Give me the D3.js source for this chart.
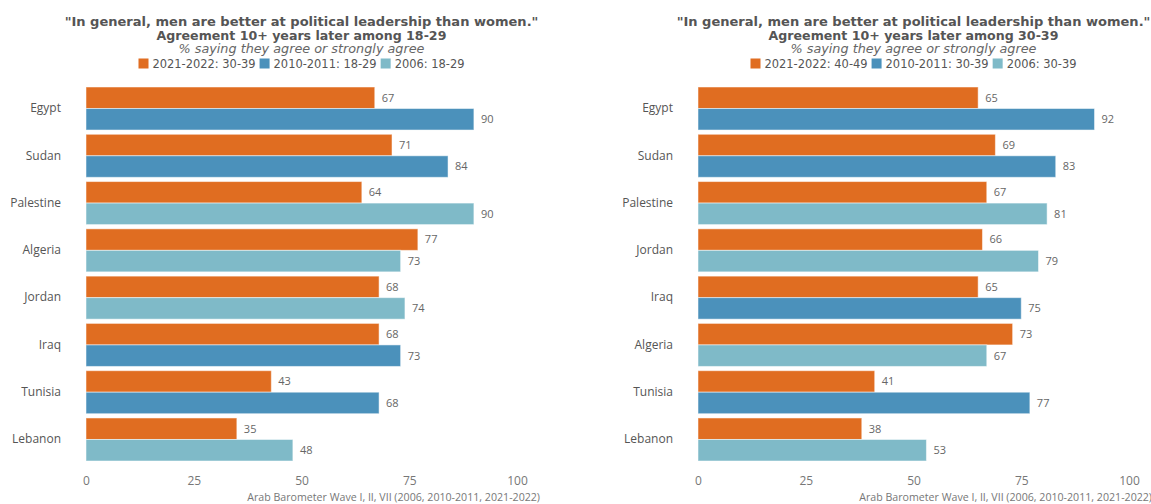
<!DOCTYPE html>
<html>
<head>
<meta charset="utf-8">
<script src="https://cdn.jsdelivr.net/npm/d3@7"></script>
<style>
  html, body { margin: 0; padding: 0; background: #ffffff; }
  svg { display: block; font-family: "Open Sans", "DejaVu Sans", sans-serif; }
</style>
</head>
<body>
<svg id="chart" width="1151" height="504"></svg>
<script>
// ---------------- DATA ----------------
const titleLine1 = '"In general, men are better at political leadership than women."';
const subtitle = "% saying they agree or strongly agree";
const sourceText = "Arab Barometer Wave I, II, VII (2006, 2010-2011, 2021-2022)";
const xTicks = [0, 25, 50, 75, 100];

// Left panel: 18-29
const leftTitle2 = "Agreement 10+ years later among 18-29";
const leftLegend = ["2021-2022: 30-39", "2010-2011: 18-29", "2006: 18-29"];
const leftCountries = ["Egypt", "Sudan", "Palestine", "Algeria", "Jordan", "Iraq", "Tunisia", "Lebanon"];
const leftRecent = [67, 71, 64, 77, 68, 68, 43, 35];
const leftEarlier = [90, 84, 90, 73, 74, 73, 68, 48];
const leftEarlierWave = ["2010-2011", "2010-2011", "2006", "2006", "2006", "2010-2011", "2010-2011", "2006"];

// Right panel: 30-39
const rightTitle2 = "Agreement 10+ years later among 30-39";
const rightLegend = ["2021-2022: 40-49", "2010-2011: 30-39", "2006: 30-39"];
const rightCountries = ["Egypt", "Sudan", "Palestine", "Jordan", "Iraq", "Algeria", "Tunisia", "Lebanon"];
const rightRecent = [65, 69, 67, 66, 65, 73, 41, 38];
const rightEarlier = [92, 83, 81, 79, 75, 67, 77, 53];
const rightEarlierWave = ["2010-2011", "2010-2011", "2006", "2006", "2010-2011", "2006", "2010-2011", "2006"];

// ---------------- STYLE ----------------
const colors = { "2021-2022": "#e06d21", "2010-2011": "#4b91bb", "2006": "#7fbac8" };
const legendColors = [colors["2021-2022"], colors["2010-2011"], colors["2006"]];
const titleFont = "'DejaVu Sans', 'Open Sans', sans-serif";

const svg = d3.select("#chart");

function fitWidth(sel, target) {
  const w = sel.node().getComputedTextLength();
  const fs = parseFloat(sel.attr("font-size"));
  sel.attr("font-size", (fs * target / w).toFixed(2));
}

function drawPanel(opts) {
  const { x0, x1, countries, recent, earlier, earlierWave, title2, legend, titleW, title2W, subW, legendW, srcW } = opts;
  const g = svg.append("g");
  const cx = (x0 + x1) / 2;

  const x = d3.scaleLinear().domain([0, 100]).range([x0, x1]);
  const y = d3.scaleBand().domain(countries).range([87, 461]).paddingInner(0.09).paddingOuter(0);
  const sub = d3.scaleBand().domain(["recent", "earlier"]).range([0, y.bandwidth()]);

  const rows = countries.map((c, i) => ({ c, recent: recent[i], earlier: earlier[i], wave: earlierWave[i] }));

  // titles
  const t1 = g.append("text").attr("x", cx).attr("y", 25.5).attr("text-anchor", "middle")
    .attr("font-family", titleFont)
    .attr("font-size", 14).attr("font-weight", "bold").attr("fill", "#555555").text(titleLine1);
  fitWidth(t1, titleW);
  const t2 = g.append("text").attr("x", cx).attr("y", 39.5).attr("text-anchor", "middle")
    .attr("font-family", titleFont)
    .attr("font-size", 14).attr("font-weight", "bold").attr("fill", "#555555").text(title2);
  fitWidth(t2, title2W);
  const st = g.append("text").attr("x", cx).attr("y", 53).attr("text-anchor", "middle")
    .attr("font-family", titleFont)
    .attr("font-size", 12).attr("font-style", "italic").attr("fill", "#666666").text(subtitle);
  fitWidth(st, subW);

  // legend
  const lg = g.append("g");
  const sq = 10, gapT = 4, gapI = 4;
  const legFs = 12;
  function layoutLegend(fs) {
    lg.selectAll("*").remove();
    let lx = 0;
    legend.forEach((lab, i) => {
      lg.append("rect").attr("x", lx).attr("y", 58.5).attr("width", sq).attr("height", sq)
        .attr("fill", legendColors[i]);
      const t = lg.append("text").attr("x", lx + sq + gapT).attr("y", 68)
        .attr("font-family", titleFont)
        .attr("font-size", fs.toFixed(2)).attr("fill", "#555555").text(lab);
      lx += sq + gapT + t.node().getComputedTextLength() + gapI;
    });
    return lx - gapI;
  }
  let lw = layoutLegend(legFs);
  const fixed = 3 * (sq + gapT) + 2 * gapI;
  lw = layoutLegend(legFs * (legendW - fixed) / (lw - fixed));
  lg.attr("transform", `translate(${cx - lw / 2},0)`);

  // bars
  const grp = g.selectAll("g.row").data(rows).join("g").attr("class", "row")
    .attr("transform", d => `translate(0,${y(d.c)})`);

  grp.append("rect")
    .attr("x", x(0)).attr("y", sub("recent"))
    .attr("width", d => x(d.recent) - x(0)).attr("height", sub.bandwidth())
    .attr("fill", colors["2021-2022"]).attr("stroke", "rgba(255,255,255,0.5)").attr("stroke-width", 1);
  grp.append("rect")
    .attr("x", x(0)).attr("y", sub("earlier"))
    .attr("width", d => x(d.earlier) - x(0)).attr("height", sub.bandwidth())
    .attr("fill", d => colors[d.wave]).attr("stroke", "rgba(255,255,255,0.5)").attr("stroke-width", 1);

  grp.append("text")
    .attr("x", d => x(d.recent) + 7).attr("y", sub("recent") + sub.bandwidth() / 2)
    .attr("dy", "0.35em").attr("font-size", 11).attr("fill", "#666666")
    .text(d => d.recent);
  grp.append("text")
    .attr("x", d => x(d.earlier) + 7).attr("y", sub("earlier") + sub.bandwidth() / 2)
    .attr("dy", "0.35em").attr("font-size", 11).attr("fill", "#666666")
    .text(d => d.earlier);

  // y axis labels
  const yAxis = g.append("g").attr("transform", `translate(${x0 - 25},0)`)
    .call(d3.axisLeft(y).tickSize(0).tickPadding(0));
  yAxis.select(".domain").remove();
  yAxis.selectAll("text").attr("font-size", 12).attr("fill", "#555555")
    .attr("font-family", "'Open Sans', 'DejaVu Sans', sans-serif");

  // x axis labels
  const xAxis = g.append("g").attr("transform", `translate(0,476)`)
    .call(d3.axisBottom(x).tickValues(xTicks).tickSize(0).tickPadding(0));
  xAxis.select(".domain").remove();
  xAxis.selectAll("text").attr("font-size", 12).attr("fill", "#777777").attr("dy", "0.71em")
    .attr("font-family", "'Open Sans', 'DejaVu Sans', sans-serif");

  // source
  const src = g.append("text").attr("x", x1 + 23).attr("y", 500.5).attr("text-anchor", "end")
    .attr("font-size", 10).attr("fill", "#777777").text(sourceText);
  fitWidth(src, srcW);
}

drawPanel({
  x0: 86, x1: 517, countries: leftCountries, recent: leftRecent, earlier: leftEarlier,
  earlierWave: leftEarlierWave, title2: leftTitle2, legend: leftLegend,
  titleW: 474, title2W: 290, subW: 246, legendW: 326, srcW: 293
});
drawPanel({
  x0: 698, x1: 1129, countries: rightCountries, recent: rightRecent, earlier: rightEarlier,
  earlierWave: rightEarlierWave, title2: rightTitle2, legend: rightLegend,
  titleW: 474, title2W: 290, subW: 246, legendW: 326, srcW: 293
});
</script>
</body>
</html>
